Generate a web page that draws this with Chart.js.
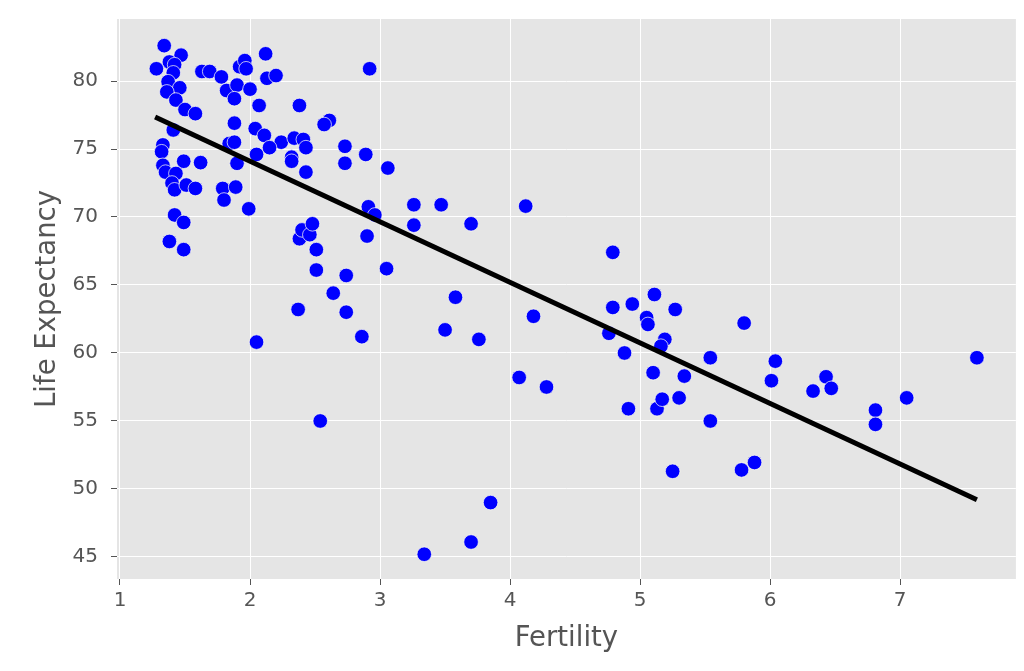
<!DOCTYPE html>
<html>
<head>
<meta charset="utf-8">
<script src="https://cdn.jsdelivr.net/npm/chart.js@4/dist/chart.umd.min.js"></script>
<style>
html,body{margin:0;padding:0;background:#fff;}
#wrap{width:1024px;height:671px;position:relative;}
</style>
</head>
<body>
<div id="wrap"><canvas id="c" width="1024" height="671"></canvas></div>
<script>
const fertility = [1.34,1.47,1.38,1.28,1.42,1.41,1.37,1.46,1.36,1.43,1.50,1.58,1.63,1.69,1.78,1.82,1.90,1.88,1.92,1.96,1.97,2.00,2.12,2.13,2.20,2.07,2.38,1.88,1.41,2.04,2.11,1.84,1.88,2.24,2.34,2.41,1.33,1.32,1.33,1.49,1.62,1.90,2.05,2.15,2.32,2.32,1.35,1.43,1.40,1.42,1.51,1.58,1.79,1.89,1.80,1.99,1.42,1.49,1.38,1.49,2.38,2.40,2.46,2.48,2.43,2.92,2.61,2.57,2.43,2.73,2.73,2.89,3.06,2.91,2.96,3.26,3.47,3.26,2.90,3.70,2.51,2.51,2.74,3.05,2.64,2.37,2.74,2.86,3.58,3.50,3.76,4.12,4.18,4.07,4.28,2.54,2.05,3.85,3.70,3.34,4.79,4.79,4.94,5.11,5.27,5.05,5.06,4.76,5.19,5.16,4.88,5.54,5.10,5.34,6.01,6.33,4.91,5.13,5.17,5.30,5.54,5.25,5.78,5.88,5.80,6.04,7.59,6.43,6.47,7.05,6.81,6.81];
const lifeExpectancy = [82.6,81.9,81.4,80.9,81.2,80.6,79.95,79.5,79.2,78.6,77.9,77.6,80.7,80.7,80.3,79.3,79.7,78.7,81.05,81.5,80.9,79.4,82.0,80.2,80.4,78.2,78.2,76.9,76.4,76.5,76.0,75.4,75.5,75.5,75.8,75.7,75.3,74.8,73.8,74.1,74.0,73.95,74.6,75.1,74.4,74.1,73.3,73.2,72.5,72.0,72.35,72.1,72.1,72.2,71.25,70.6,70.15,69.6,68.2,67.6,68.4,69.05,68.7,69.5,73.3,80.9,77.1,76.8,75.1,75.2,73.95,74.6,73.6,70.75,70.15,70.9,70.9,69.4,68.6,69.5,67.6,66.1,65.7,66.2,64.4,63.2,63.0,61.2,64.1,61.7,61.0,70.8,62.7,58.2,57.5,55.0,60.8,49.0,46.1,45.2,67.4,63.35,63.6,64.3,63.2,62.6,62.1,61.45,61.0,60.5,60.0,59.65,58.55,58.3,57.96,57.2,55.9,55.9,56.6,56.7,55.0,51.3,51.4,51.95,62.2,59.4,59.65,58.25,57.4,56.7,55.8,54.75];
const fitLineX = [1.27, 7.59];
const fitLineY = [77.35, 49.2];
const xTicks = [1,2,3,4,5,6,7];
const yTicks = [45,50,55,60,65,70,75,80];

const points = fertility.map((x,i)=>({x:x,y:lifeExpectancy[i]}));
const fitLine = fitLineX.map((x,i)=>({x:x,y:fitLineY[i]}));

const bgPlugin = {
  id:'bg',
  beforeDraw(chart){
    const {ctx, chartArea:a} = chart;
    ctx.save();
    ctx.fillStyle = '#e5e5e5';
    ctx.fillRect(a.left, a.top, a.right-a.left, a.bottom-a.top);
    ctx.restore();
  }
};

new Chart(document.getElementById('c'), {
  type:'scatter',
  data:{
    datasets:[
      {type:'line', data:fitLine, borderColor:'#000', borderWidth:5, pointRadius:0, fill:false, order:0, showLine:true, tension:0},
      {data:points, backgroundColor:'#0000ff', borderColor:'rgba(255,255,240,0.9)', borderWidth:0.8, pointRadius:7.3, pointHoverRadius:7.3, order:1}
    ]
  },
  options:{
    responsive:false,
    animation:false,
    layout:{padding:{left:0, top:19, right:6, bottom:0}},
    plugins:{legend:{display:false}, tooltip:{enabled:false}},
    scales:{
      x:{
        type:'linear', min:0.977, max:7.89,
        afterBuildTicks(s){ s.ticks = xTicks.map(v=>({value:v})); },
        afterFit(s){ s.height = 92; s.paddingLeft = 0; s.paddingRight = 0; },
        grid:{color:'#ffffff', lineWidth:1, drawTicks:true, tickLength:6, tickColor:'#555555', tickWidth:1},
        border:{display:false},
        ticks:{color:'#555555', font:{family:'DejaVu Sans', size:20}, padding:4, maxRotation:0},
        title:{display:true, text:'Fertility', color:'#555555', font:{family:'DejaVu Sans', size:27.5}, padding:{top:0,bottom:16}}
      },
      y:{
        type:'linear', min:43.38, max:84.56,
        afterBuildTicks(s){ s.ticks = yTicks.map(v=>({value:v})); },
        afterFit(s){ s.width = 117; s.paddingTop = 0; s.paddingBottom = 0; },
        grid:{color:'#ffffff', lineWidth:1, drawTicks:true, tickLength:6, tickColor:'#555555', tickWidth:1},
        border:{display:false},
        ticks:{color:'#555555', font:{family:'DejaVu Sans', size:20}, padding:13},
        title:{display:true, text:'Life Expectancy', color:'#555555', font:{family:'DejaVu Sans', size:27.5}, padding:{top:31.5,bottom:0}}
      }
    }
  },
  plugins:[bgPlugin]
});
</script>
</body>
</html>
